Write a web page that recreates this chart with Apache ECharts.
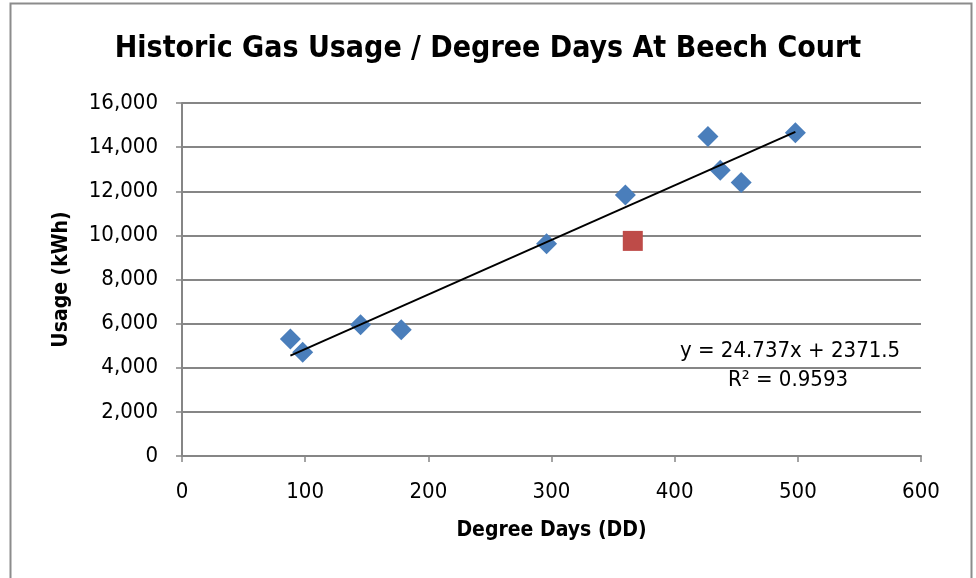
<!DOCTYPE html>
<html><head><meta charset="utf-8">
<script src="https://cdn.jsdelivr.net/npm/echarts@6/dist/echarts.min.js"></script>
<style>html,body{margin:0;padding:0;background:#fff}#c{width:976px;height:578px}</style>
</head><body><div id="c"></div>
<script>
const FONT = '"Liberation Sans Narrow","DejaVu Sans Condensed","Open Sans",sans-serif';
const degreeDays = [88, 98, 145, 178, 296, 360, 427, 437, 454, 498];
const usage = [5300, 4700, 5950, 5720, 9620, 11830, 14480, 12950, 12400, 14650];
const outlierDD = [366];
const outlierUsage = [9750];
const trendDD = [88, 498];
const trendUsage = [4548, 14690];
const xTicks = [0, 100, 200, 300, 400, 500, 600];
const yTicks = [0, 2000, 4000, 6000, 8000, 10000, 12000, 14000, 16000];
const titleText = 'Historic Gas Usage / Degree Days At Beech Court';
const eqText = 'y = 24.737x + 2371.5';
const r2Text = 'R² = 0.9593';

const chart = echarts.init(document.getElementById('c'), null, {renderer:'canvas'});
const fmt = v => v.toLocaleString('en-US');
chart.setOption({
  animation:false,
  backgroundColor:'#fff',
  title:{text:titleText,left:'center',top:29,textStyle:{fontFamily:FONT,fontWeight:'bold',fontSize:30,color:'#000'}},
  grid:{left:182,top:103,width:739,height:353},
  xAxis:{type:'value',min:xTicks[0],max:xTicks[xTicks.length-1],interval:100,
    name:'Degree Days (DD)',nameLocation:'middle',nameGap:64,
    nameTextStyle:{fontFamily:FONT,fontWeight:'bold',fontSize:21,color:'#000'},
    axisLine:{show:true,lineStyle:{color:'#868686',width:2}},
    axisTick:{show:true,length:6,lineStyle:{color:'#868686',width:1.5}},
    axisLabel:{fontFamily:FONT,fontSize:22,color:'#000',margin:25},
    splitLine:{show:false}},
  yAxis:{type:'value',min:yTicks[0],max:yTicks[yTicks.length-1],interval:2000,
    name:'Usage (kWh)',nameLocation:'middle',nameGap:110,nameRotate:90,
    nameTextStyle:{fontFamily:FONT,fontWeight:'bold',fontSize:21,color:'#000'},
    axisLine:{show:true,lineStyle:{color:'#868686',width:2}},
    axisTick:{show:true,inside:false,length:6,lineStyle:{color:'#868686',width:1.5}},
    axisLabel:{fontFamily:FONT,fontSize:22,color:'#000',margin:24,formatter:fmt},
    splitLine:{show:true,lineStyle:{color:'#868686',width:2}}},
  graphic:[
    {type:'rect',shape:{x:10.5,y:3.5,width:961,height:620},style:{fill:null,stroke:'#8c8c8c',lineWidth:2},silent:true},
    {type:'text',left:680,top:340,style:{text:eqText,fontFamily:FONT,fontSize:22,fill:'#000'}},
    {type:'text',left:728,top:369,style:{text:r2Text,fontFamily:FONT,fontSize:22,fill:'#000'}}
  ],
  series:[
    {type:'line',data:trendDD.map((x,i)=>[x,trendUsage[i]]),symbol:'none',lineStyle:{color:'#000',width:2},z:3},
    {type:'scatter',data:degreeDays.map((x,i)=>[x,usage[i]]),symbol:'diamond',symbolSize:[21,21],itemStyle:{color:'#4a7ebb',opacity:1},z:2},
    {type:'scatter',data:outlierDD.map((x,i)=>[x,outlierUsage[i]]),symbol:'rect',symbolSize:20,itemStyle:{color:'#be4b48',opacity:1},z:2}
  ]
});
</script></body></html>
